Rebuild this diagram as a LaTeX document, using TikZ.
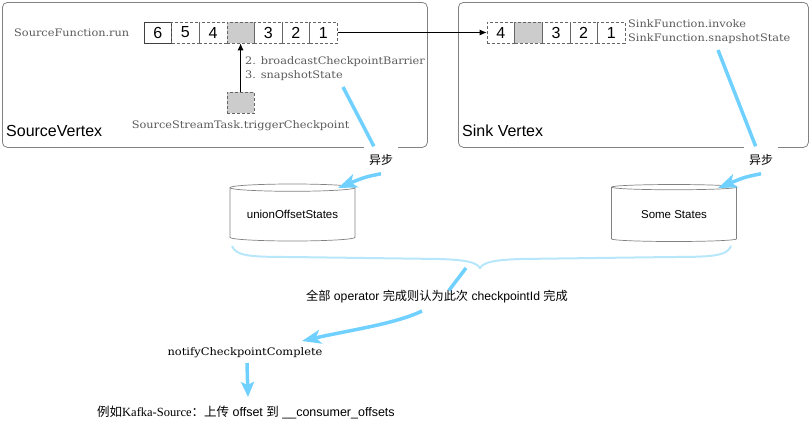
\documentclass[tikz,border=0pt]{standalone}
\usepackage{fontspec}
\setmainfont{Liberation Sans}
\newfontfamily\cjk{Noto Sans CJK SC}
\newfontfamily\tw[FakeStretch=1.1]{DejaVu Serif}
\newfontfamily\tms{Liberation Serif}
\usetikzlibrary{arrows.meta,shapes.geometric}
\definecolor{bl}{RGB}{112,208,255}
\definecolor{brc}{RGB}{184,230,250}
\definecolor{gtx}{RGB}{90,90,90}
\definecolor{cellg}{RGB}{204,204,204}
\definecolor{bord}{RGB}{130,130,130}
\begin{document}
\begin{tikzpicture}[x=1pt,y=-1pt,
  vbox/.style={draw=bord, rounded corners=5pt, line width=0.8pt, inner sep=0pt},
  vlabel/.style={anchor=west, inner sep=0pt, font=\fontsize{16}{16}\selectfont},
  cell/.style={draw=black!60, dashed, dash pattern=on 3pt off 2pt, line width=0.6pt,
    minimum width=27.6pt, minimum height=21pt, inner sep=0pt, font=\fontsize{16}{16}\selectfont},
  gtext/.style={inner sep=0pt, text=gtx, font=\tw\fontsize{10.3}{12}\selectfont},
  btext/.style={inner sep=0pt, text=black, font=\tw\fontsize{10.4}{12}\selectfont},
  cyl/.style={cylinder, shape border rotate=90, aspect=0.08, draw=bord, line width=0.7pt,
    minimum width=125pt, minimum height=57pt, inner sep=0pt, font=\fontsize{11.5}{12}\selectfont},
  async/.style={fill=white, inner xsep=5pt, inner ysep=8pt, font=\cjk\fontsize{12}{12}\selectfont},
  bline/.style={draw=bl, line width=3.5pt},
  barrow/.style={bline, -{Stealth[length=19pt,width=14pt,inset=5pt]}},
  barrows/.style={bline, -{Stealth[length=15pt,width=13pt,inset=3pt]}},
  karrow/.style={line width=0.9pt, -{Latex[length=7pt,width=6pt]}},
  brace/.style={draw=brc, line width=2pt}
]
\useasboundingbox (0,0) rectangle (809,426);

% vertex boxes
\node[vbox, minimum width=425pt, minimum height=145pt, anchor=north west] (src) at (2,2) {};
\node[vbox, minimum width=350pt, minimum height=145pt, anchor=north west] (snk) at (458,2) {};
\node[vlabel] (srcl) at (6,131) {SourceVertex};
\node[vlabel] (snkl) at (462,131) {Sink Vertex};

% source cells
\node[gtext, anchor=west] (sfr) at (14,33) {SourceFunction.run};
\node[cell, solid, draw=black!75] (c6) at (157.8,32.5) {6};
\node[cell] (c5) at (185.4,32.5) {5};
\node[cell] (c4) at (213.0,32.5) {4};
\node[cell, fill=cellg] (cg) at (240.6,32.5) {};
\node[cell] (c3) at (268.2,32.5) {3};
\node[cell] (c2) at (295.8,32.5) {2};
\node[cell] (c1) at (323.4,32.5) {1};

% sink cells
\node[cell] (k4) at (500.8,32.5) {4};
\node[cell, fill=cellg] (kg) at (528.4,32.5) {};
\node[cell] (k3) at (556.0,32.5) {3};
\node[cell] (k2) at (583.6,32.5) {2};
\node[cell] (k1) at (611.2,32.5) {1};
\node[gtext, anchor=west] (sfi) at (628,24) {SinkFunction.invoke};
\node[gtext, anchor=west] (sfs) at (628,39) {SinkFunction.snapshotState};

\draw[karrow] (c1.east) -- (k4.west);

% trigger
\node[cell, fill=cellg] (trg) at (240.6,102.5) {};
\node[gtext] (trgl) at (240.6,126) {SourceStreamTask.triggerCheckpoint};
\node[gtext, anchor=west] (bcb) at (245,62) {2. broadcastCheckpointBarrier};
\node[gtext, anchor=west] (sss) at (245,76) {3. snapshotState};
\draw[karrow] (trg.north) -- (cg.south);

% states
\node[cyl] (cy1) at (292.5,214.5) {unionOffsetStates};
\node[cyl] (cy2) at (674,214.5) {Some States};

% async arrows
\node[async] (as1) at (381,160) {异步};
\node[async] (as2) at (761,160) {异步};
\coordinate (s1) at (343,87);
\coordinate (t1) at (338,188);
\coordinate (s2) at (718,50);
\coordinate (t2) at (718,188);
\draw[bline] (s1) -- (as1);
\draw[barrow] (as1.south) .. controls (365,177) .. (t1);
\draw[bline] (s2) -- (as2);
\draw[barrow] (as2.south) .. controls (745,177) .. (t2);

% brace
\draw[brace] (232,246) .. controls (236,256) and (250,257) .. (290,257) -- (440,259)
  .. controls (466,260) and (476,262) .. (480,268)
  .. controls (484,262) and (494,260) .. (520,259) -- (672,257)
  .. controls (712,257) and (727,256) .. (731,246);

% all operators
\node[inner sep=0pt, font=\fontsize{12.2}{12}\selectfont] (allop) at (437,297)
  {{\cjk 全部} operator {\cjk 完成则认为此次} checkpointId {\cjk 完成}};
\coordinate (bt) at (466,268);
\draw[bline] (bt) -- ([xshift=12pt]allop.north);
\coordinate (a3) at (422,311);
\node[btext] (ncc) at (245,353) {notifyCheckpointComplete};
\coordinate (t3) at (302,341);
\draw[barrow] (a3) .. controls (395,324) and (350,330) .. (t3);

\coordinate (d0) at (247,363);
\coordinate (d1) at (248,397);
\draw[barrows] (d0) -- (d1);

\node[inner sep=0pt, anchor=west, font=\fontsize{12.5}{13}\selectfont] (ex) at (97,412)
  {{\cjk 例如}{\tms Kafka-Source}{\cjk ：上传} offset {\cjk 到} \_\_consumer\_offsets};
\end{tikzpicture}
\end{document}
